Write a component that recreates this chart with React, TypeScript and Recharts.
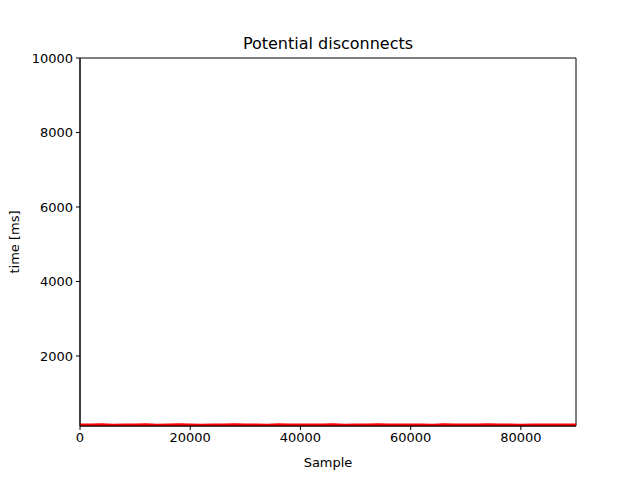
import { LineChart, Line, XAxis, YAxis, ReferenceArea } from "recharts";

// sample index (x) and measured time in ms (y)
const samples = [
  0, 2000, 4000, 6000, 8000, 10000, 12000, 14000, 16000, 18000, 20000, 22000, 24000, 26000, 28000,
  30000, 32000, 34000, 36000, 38000, 40000, 42000, 44000, 46000, 48000, 50000, 52000, 54000, 56000,
  58000, 60000, 62000, 64000, 66000, 68000, 70000, 72000, 74000, 76000, 78000, 80000, 82000, 84000,
  86000, 88000, 90000,
];
const timeMs = [
  150, 145, 155, 140, 150, 145, 155, 140, 150, 152, 145, 140, 150, 147, 155, 145, 150, 142, 152, 145,
  150, 145, 148, 155, 142, 150, 145, 152, 147, 150, 145, 150, 142, 152, 145, 150, 147, 155, 145, 150,
  142, 150, 147, 150, 145, 150,
];

const xTicks = [0, 20000, 40000, 60000, 80000];
const yTicks = [2000, 4000, 6000, 8000, 10000];

const data = samples.map((s, i) => ({ sample: s, time: timeMs[i] }));

const font = { fontFamily: "DejaVu Sans", fontSize: 13, fill: "#000" };

export default function App() {
  return (
    <div style={{ position: "absolute", left: 0, top: 0, width: 640, height: 480, background: "#fff" }}>
      <div style={{ position: "absolute", top: 34, width: 656, textAlign: "center", fontFamily: "DejaVu Sans", fontSize: 16 }}>
        Potential disconnects
      </div>
      <LineChart width={640} height={480} data={data} margin={{ top: 58, right: 64, left: 20, bottom: 24 }}>
        <XAxis
          dataKey="sample"
          type="number"
          domain={[0, 90000]}
          ticks={xTicks}
          tick={font}
          tickSize={4}
          tickMargin={3}
          stroke="#000"
          height={30}
          allowDataOverflow
          label={{ value: "Sample", position: "insideBottom", offset: -11, style: font }}
        />
        <YAxis
          type="number"
          domain={[120, 10000]}
          ticks={yTicks}
          tick={font}
          tickSize={4}
          tickMargin={3}
          stroke="#000"
          width={60}
          allowDataOverflow
          label={{ value: "time [ms]", angle: -90, position: "insideLeft", offset: -6, style: { ...font, textAnchor: "middle" } }}
        />
        <ReferenceArea x1={0} x2={90000} y1={120} y2={10000} fill="none" stroke="#000" strokeWidth={1} ifOverflow="visible" />
        <Line dataKey="time" stroke="#ff0000" strokeWidth={3} dot={false} isAnimationActive={false} />
      </LineChart>
    </div>
  );
}
